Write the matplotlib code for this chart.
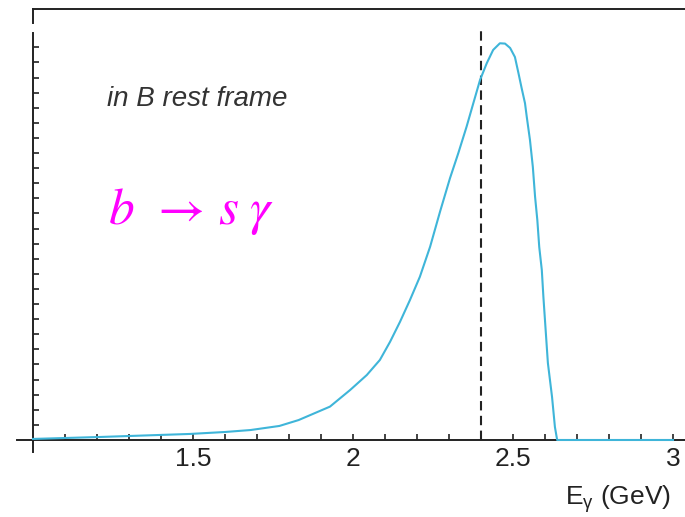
import numpy as np
import matplotlib
matplotlib.use("Agg")
import matplotlib.pyplot as plt

# photon energy spectrum in B rest frame (arbitrary units)
e_gamma = [1.00, 1.21, 1.49, 1.60, 1.68, 1.77, 1.83, 1.928, 1.991, 2.043, 2.084,
           2.116, 2.147, 2.178, 2.209, 2.241, 2.272, 2.303, 2.329, 2.355, 2.376,
           2.397, 2.418, 2.438, 2.459, 2.475, 2.491, 2.506, 2.517, 2.527, 2.5375,
           2.543, 2.553, 2.562, 2.569, 2.576, 2.582, 2.59, 2.595, 2.609, 2.622,
           2.631, 2.638, 3.0]
spectrum = [0.07, 0.2, 0.4, 0.53, 0.66, 0.93, 1.32, 2.21, 3.31, 4.30, 5.30,
            6.51, 7.83, 9.27, 10.81, 12.80, 15.12, 17.33, 18.99, 20.75, 22.30,
            23.84, 24.95, 25.83, 26.27, 26.25, 25.96, 25.36, 24.3, 23.3, 22.3,
            21.4, 19.87, 18.08, 16.1, 14.57, 12.78, 11.26, 9.47, 5.1, 2.85,
            0.86, 0.0, 0.0]
cut_energy = 2.4
x_ticks = [1.5, 2, 2.5, 3]
x_tick_labels = ["1.5", "2", "2.5", "3"]
x_minor = [1.1, 1.2, 1.3, 1.4, 1.6, 1.7, 1.8, 1.9, 2.1, 2.2, 2.3, 2.4,
           2.6, 2.7, 2.8, 2.9]
y_ticks = list(range(1, 27))

plt.rcParams['font.family'] = ['Liberation Sans', 'DejaVu Sans']
plt.rcParams['mathtext.fontset'] = 'custom'
plt.rcParams['mathtext.rm'] = 'Liberation Sans'
plt.rcParams['mathtext.it'] = 'Liberation Sans:italic'

W, H = 685, 517
fig = plt.figure(figsize=(W / 100, H / 100), dpi=100)
ax = fig.add_axes([17 / W, 1 - 452 / H, 668 / W, 443 / H])

ax.set_xlim(0.95, 3.0375)
ax.set_ylim(-0.795, 28.54)

ax.plot(e_gamma, spectrum, color='#3fb5d9', lw=1.5, zorder=3)
ax.vlines(cut_energy, 0, 27.35, colors='#222222', lw=1.5,
          linestyles=(0, (4.5, 2.6)), zorder=2)

# Mathematica-like axes crossing at (1, 0)
ax.spines['right'].set_visible(False)
ax.spines['left'].set_position(('data', 1.0))
ax.spines['bottom'].set_position(('data', 0))
ax.spines['left'].set_bounds(-0.795, 26.95)
ax.spines['top'].set_bounds(1.0, 3.0375)
for s in ['left', 'bottom', 'top']:
    ax.spines[s].set_linewidth(1.4)
    ax.spines[s].set_color('#222222')
ax.plot([1.0, 1.0], [28.54, 27.6], color='#222222', lw=1.4, clip_on=False)

ax.set_xticks(x_ticks)
ax.set_xticklabels(x_tick_labels)
ax.set_xticks(x_minor, minor=True)
ax.set_yticks(y_ticks)
ax.set_yticklabels([])
ax.tick_params(axis='both', which='both', direction='in', length=4.5,
               width=1.2, color='#222222')
ax.tick_params(axis='x', labelsize=19, labelcolor='#222222', pad=5)
ax.tick_params(top=False, right=False)

ax.text(1.231, 22.6, "in B rest frame", fontsize=20, style='italic',
        color='#333333', va='center', ha='left')
ax.text(1.234, 15.1, r"$b\,\;\rightarrow\,s\;\gamma$", fontsize=37,
        color='#ff00ff', va='center', ha='left', math_fontfamily='stix')

fig.text(671 / W, 1 - 499 / H, r"E$_{\mathrm{\gamma}}$ (GeV)", fontsize=19,
         color='#222222', ha='right', va='center')

fig.savefig("out.png", dpi=100)
